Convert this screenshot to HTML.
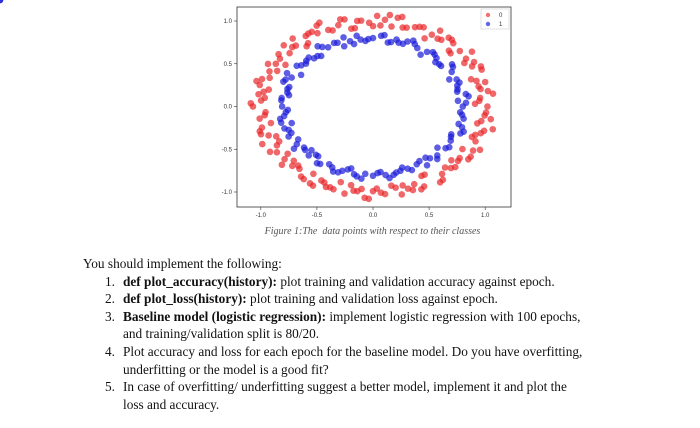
<!DOCTYPE html>
<html><head><meta charset="utf-8">
<style>
body{margin:0;width:700px;height:428px;background:#fff;overflow:hidden;position:relative;font-family:"Liberation Serif",serif;color:#111}
svg{position:absolute;left:0;top:0}
.cap{position:absolute;left:0;width:745px;top:226px;text-align:center;font-style:italic;font-size:10px;color:#555}
.txt{position:absolute;left:83px;top:255px;font-size:13.3px;line-height:17.6px;white-space:nowrap}
.it{position:relative;padding-left:40px}
.it .n{position:absolute;left:22px}
</style></head><body>
<svg width="700" height="225">
<g id="marks"></g>
<rect x="237" y="7" width="274" height="200" fill="none" stroke="#333" stroke-width="0.8"/>
<g id="axes" font-family="Liberation Sans, sans-serif" font-size="6" fill="#333"></g>
<g>
<rect x="481" y="9" width="28" height="20" fill="#fff" stroke="#ccc" stroke-width="0.6"/>
<circle cx="488" cy="15" r="2.2" fill="#e33" opacity="0.7"/>
<text x="499" y="17" font-family="Liberation Sans,sans-serif" font-size="6" fill="#333">0</text>
<circle cx="488" cy="24" r="2.2" fill="#22d" opacity="0.7"/>
<text x="499" y="26" font-family="Liberation Sans,sans-serif" font-size="6" fill="#333">1</text>
</g>
</svg>
<div class="cap">Figure 1:The&nbsp; data points with respect to their classes</div>
<div class="txt">
<div>You should implement the following:</div>
<div class="it"><span class="n">1.</span><b>def plot_accuracy(history):</b> plot training and validation accuracy against epoch.</div>
<div class="it"><span class="n">2.</span><b>def plot_loss(history):</b> plot training and validation loss against epoch.</div>
<div class="it"><span class="n">3.</span><b>Baseline model (logistic regression):</b> implement logistic regression with 100 epochs,<br>and training/validation split is 80/20.</div>
<div class="it"><span class="n">4.</span>Plot accuracy and loss for each epoch for the baseline model. Do you have overfitting,<br>underfitting or the model is a good fit?</div>
<div class="it"><span class="n">5.</span>In case of overfitting/ underfitting suggest a better model, implement it and plot the<br>loss and accuracy.</div>
</div>
<script>
const xTicks=[-1.0,-0.5,0.0,0.5,1.0];
const yTicks=[1.0,0.5,0.0,-0.5,-1.0];
const redAngle=[0,4,8,12,16,20,24,28,32,36,40,44,48,52,56,60,64,68,72,76,80,84,88,92,96,100,104,108,112,116,120,124,128,132,136,140,144,148,152,156,160,164,168,172,176,180,184,188,192,196,200,204,208,212,216,220,224,228,232,236,240,244,248,252,256,260,264,268,272,276,280,284,288,292,296,300,304,308,312,316,320,324,328,332,336,340,344,348,352,356,2,10,18,26,34,42,50,58,66,74,82,90,98,106,114,122,130,138,146,154,162,170,178,186,194,202,210,218,226,234,242,250,258,266,274,282,290,298,306,314,322,330,338,346,354,6,30,54,78,102,126,150,174,198,222,246,270,294,318,342,14,46,86,118,134,166,206,238,262,286,326,350];
const redRadius=[1.02,0.95,1.08,0.98,1.04,0.93,1.06,1.00,0.96,1.09,1.01,0.94,1.05,0.99,1.07,0.92,1.03,1.00,0.97,1.08,0.95,1.02,1.06,0.98,1.01,0.93,1.05,1.00,0.96,1.09,0.99,1.03,0.94,1.07,1.00,0.97,1.04,0.92,1.06,1.01,0.98,1.08,0.95,1.03,1.00,1.07,0.96,1.02,0.93,1.05,0.99,1.08,0.97,1.01,0.94,1.06,1.00,0.98,1.04,0.95,1.07,0.99,1.02,0.93,1.05,1.00,0.97,1.08,0.96,1.03,0.94,1.06,1.01,0.98,1.04,0.92,1.07,1.00,0.96,1.02,0.99,1.05,0.94,1.08,1.00,0.97,1.03,0.95,1.06,1.01,0.91,1.04,0.97,1.07,1.00,0.93,1.05,0.99,1.02,0.96,1.08,0.94,1.01,1.06,0.98,1.03,0.92,1.07,1.00,0.95,1.04,0.99,1.09,0.97,1.02,0.93,1.06,1.00,0.96,1.05,0.98,1.03,0.94,1.07,1.01,0.97,1.04,0.92,1.06,1.00,0.98,1.03,0.95,1.10,1.00,0.96,1.04,0.98,1.06,0.93,1.02,1.00,0.97,1.05,0.95,1.03,0.99,1.06,0.94,1.01,0.97,1.03,0.95,1.07,0.99,1.04,0.93,1.06,1.00,0.96,1.05,0.98];
const blueAngle=[0,5,10,15,20,25,30,35,40,45,50,55,60,65,70,75,80,85,90,95,100,105,110,115,120,125,130,135,140,145,150,155,160,165,170,175,180,185,190,195,200,205,210,215,220,225,230,235,240,245,250,255,260,265,270,275,280,285,290,295,300,305,310,315,320,325,330,335,340,345,350,355,3,13,23,33,43,53,63,73,83,93,103,113,123,133,143,153,163,173,183,193,203,213,223,233,243,253,263,273,283,293,303,313,323,333,343,353,8,38,68,98,128,158,188,218,248,278,308,338,18,48,78,108,138,168,198,228,258,288,318,348];
const blueRadius=[0.80,0.76,0.84,0.78,0.82,0.75,0.81,0.86,0.77,0.80,0.83,0.74,0.79,0.85,0.78,0.81,0.76,0.83,0.80,0.77,0.84,0.79,0.75,0.82,0.80,0.86,0.77,0.81,0.78,0.83,0.74,0.80,0.85,0.79,0.76,0.82,0.81,0.78,0.84,0.75,0.80,0.83,0.77,0.86,0.79,0.81,0.76,0.82,0.78,0.84,0.80,0.75,0.83,0.79,0.81,0.77,0.85,0.80,0.76,0.82,0.78,0.84,0.79,0.81,0.75,0.83,0.80,0.77,0.86,0.79,0.82,0.78,0.83,0.77,0.81,0.85,0.76,0.80,0.82,0.78,0.84,0.79,0.75,0.81,0.83,0.77,0.80,0.86,0.78,0.82,0.76,0.84,0.79,0.81,0.75,0.83,0.80,0.77,0.85,0.78,0.82,0.79,0.76,0.84,0.81,0.78,0.83,0.80,0.86,0.77,0.82,0.79,0.75,0.84,0.80,0.78,0.83,0.81,0.76,0.84,0.79,0.82,0.77,0.85,0.80,0.78,0.83,0.76,0.81,0.79];
const X=v=>373+v*112.2, Y=v=>106.5-v*85.5;
const ns='http://www.w3.org/2000/svg';
const marks=document.getElementById('marks'), axes=document.getElementById('axes');
function pts(A,R,color,name){
  for(let i=0;i<A.length;i++){
    const a=A[i]*Math.PI/180, c=document.createElementNS(ns,'circle');
    c.setAttribute('cx',X(R[i]*Math.cos(a)));c.setAttribute('cy',Y(R[i]*Math.sin(a)));
    c.setAttribute('r',3.3);c.setAttribute('fill',color);c.setAttribute('opacity',0.7);
    
    
    marks.appendChild(c);
  }
}
pts(redAngle,redRadius,'#e8262a','class-0-point');
pts(blueAngle,blueRadius,'#1a1ad8','class-1-point');
xTicks.forEach(v=>{
  const l=document.createElementNS(ns,'line');
  l.setAttribute('x1',X(v));l.setAttribute('x2',X(v));l.setAttribute('y1',207);l.setAttribute('y2',210);l.setAttribute('stroke','#333');l.setAttribute('stroke-width',0.6);
  
  
  axes.appendChild(l);
  const t=document.createElementNS(ns,'text');
  t.setAttribute('x',X(v));t.setAttribute('y',217);t.setAttribute('text-anchor','middle');t.textContent=v.toFixed(1);
  
  
  axes.appendChild(t);
});
yTicks.forEach(v=>{
  const l=document.createElementNS(ns,'line');
  l.setAttribute('x1',234);l.setAttribute('x2',237);l.setAttribute('y1',Y(v));l.setAttribute('y2',Y(v));l.setAttribute('stroke','#333');l.setAttribute('stroke-width',0.6);
  
  
  axes.appendChild(l);
  const t=document.createElementNS(ns,'text');
  t.setAttribute('x',232);t.setAttribute('y',Y(v)+2);t.setAttribute('text-anchor','end');t.textContent=v.toFixed(1);
  
  
  axes.appendChild(t);
});
</script>
</body></html>
